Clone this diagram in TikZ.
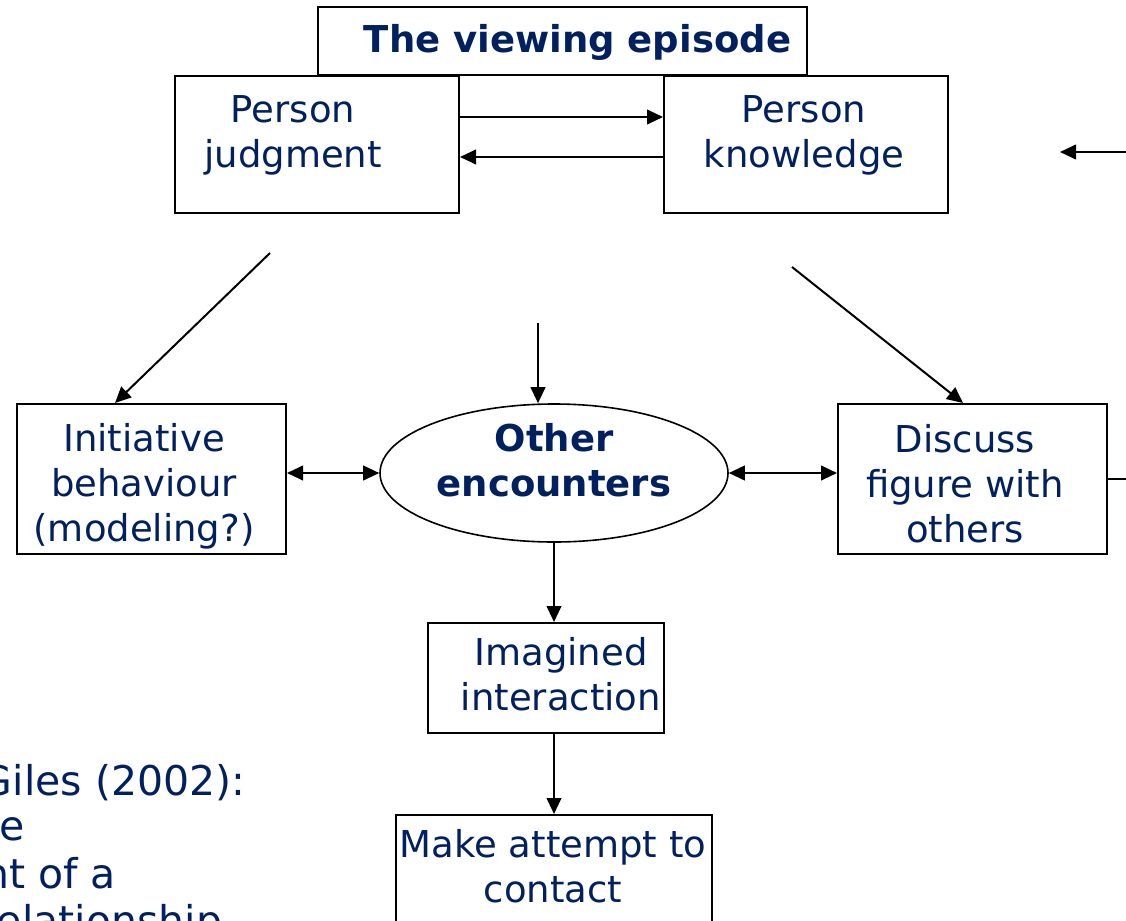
\documentclass[tikz,border=0pt]{standalone}
\usepackage{fontspec}
\setmainfont{DejaVu Sans}
\usetikzlibrary{arrows.meta,shapes.geometric}
\definecolor{navy}{RGB}{0,32,96}

\tikzset{every picture/.style={line width=1.5pt}}
\tikzset{
  box/.style={draw, rectangle, inner sep=0pt},
  oval/.style={draw, ellipse, inner sep=0pt, line width=1.2pt},
  txt/.style={align=center, text=navy, inner sep=0pt, font=\fontsize{27.75}{33.75}\selectfont},
  btxt/.style={txt, font=\fontsize{27.75}{33.75}\selectfont\bfseries},
  note/.style={text=navy, inner sep=0pt, anchor=base west, font=\fontsize{30.75}{35.25}\selectfont},
  arr/.style={-{Triangle[length=12pt,width=11pt]}},
  darr/.style={{Triangle[length=12pt,width=11pt]}-{Triangle[length=12pt,width=11pt]}}
}

\begin{document}
\begin{tikzpicture}[x=0.75pt,y=0.75pt,yscale=-1,xscale=1]
\useasboundingbox (0,0) rectangle (1126,920);
\clip (0,0) rectangle (1126,920);

%Shape: Rectangle [title]
\node[box, minimum width=366.75pt, minimum height=51pt] (title) at (562.5,41) {};
%Shape: Rectangle [person judgment]
\node[box, minimum width=213pt, minimum height=102.75pt] (pj) at (317,144.5) {};
%Shape: Rectangle [person knowledge]
\node[box, minimum width=213pt, minimum height=102.75pt] (pk) at (806,144.5) {};
%Shape: Rectangle [initiative]
\node[box, minimum width=201.75pt, minimum height=112.5pt] (init) at (151.5,479) {};
%Shape: Ellipse [other encounters]
\node[oval, minimum width=261pt, minimum height=103.5pt] (other) at (554,473) {};
%Shape: Rectangle [discuss]
\node[box, minimum width=201.75pt, minimum height=112.5pt] (disc) at (972.5,479) {};
%Shape: Rectangle [imagined]
\node[box, minimum width=177pt, minimum height=82.5pt] (imag) at (546,678) {};
%Shape: Rectangle [make attempt]
\node[box, minimum width=237pt, minimum height=102.75pt] (make) at (554,883.5) {};

%Free ends
\coordinate (pjout) at (270,253);
\coordinate (vin) at (538,323);
\coordinate (pkout) at (792,267);
\coordinate (fbin) at (1140,152);
\coordinate (fbtip) at (1060,152);
\coordinate (dout) at (1140,479);

%Straight Lines
\draw[arr] (pj.east |- 0,117) -- (pk.west |- 0,117);
\draw[arr] (pk.west |- 0,157) -- (pj.east |- 0,157);
\draw[arr] (fbin) -- (fbtip);
\draw[arr] (pjout) -- (init.north -| 115,0);
\draw[arr] (vin) -- (vin |- other.north);
\draw[arr] (pkout) -- (disc.north -| 963,0);
\draw[darr] (init.east |- other.west) -- (other.west);
\draw[darr] (other.east) -- (disc.west |- other.east);
\draw (disc.east) -- (dout);
\draw[arr] (other.south) -- (other.south |- imag.north);
\draw[arr] (imag.south -| make.north) -- (make.north);

% Text Node
\node[btxt, anchor=base] (title-t) at (577.5,53) {The viewing episode};
% Text Node
\node[txt] (pj-t) at (293,135) {Person\\judgment};
% Text Node
\node[txt] (pk-t) at (804,135) {Person\\knowledge};
% Text Node
\node[txt] (init-t) at (144,486) {Initiative\\behaviour\\(modeling?)};
% Text Node
\node[btxt] (other-t) at (554,460) {Other\\encounters};
% Text Node
\node[txt] (disc-t) at (965,484) {Discuss\\figure with\\others};
% Text Node
\node[txt] (imag-t) at (561,674) {Imagined\\interaction};
% Text Node
\node[txt] (make-t) at (553,866) {Make attempt to\\contact};

% Text Node
\node[note] (n1) at (-20,795) {Giles (2002):};
\node[note, anchor=base east] (n2) at (26,840) {the};
\node[note, anchor=base east] (n3) at (117,888) {nt of a};
\node[note, anchor=base east] (n4) at (223,935) {relationship};

\end{tikzpicture}
\end{document}
